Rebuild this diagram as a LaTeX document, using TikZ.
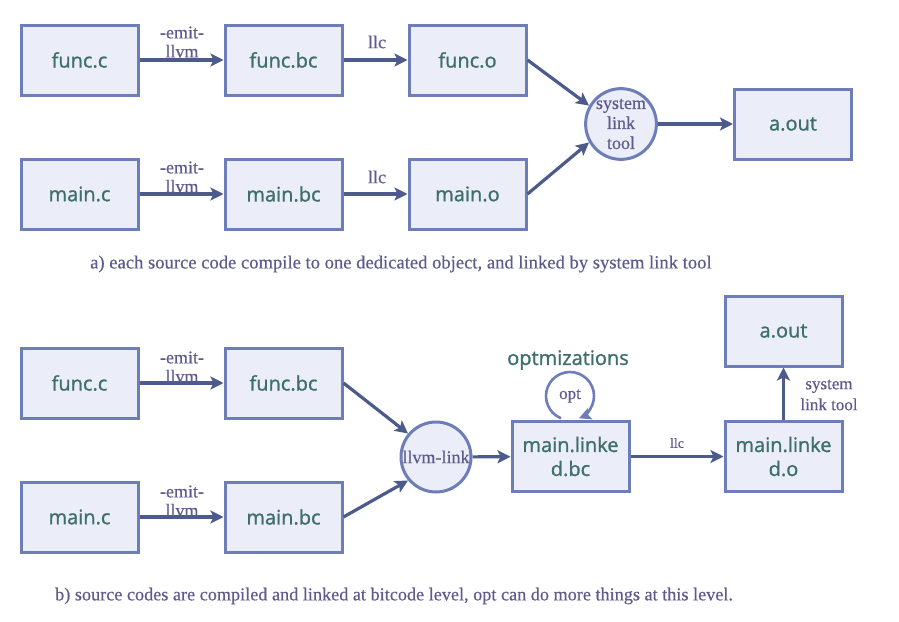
\documentclass[tikz,border=0pt]{standalone}
\usepackage{fontspec}
\setmainfont{Liberation Serif}
\newfontfamily\boxfont[FakeBold=1.2]{Open Sans}
\newfontfamily\labfont[FakeBold=0.4]{Liberation Serif}
\usetikzlibrary{arrows.meta}
\definecolor{boxfill}{HTML}{EBEEF8}
\definecolor{boxline}{HTML}{6C7DB8}
\definecolor{arrcol}{HTML}{4C5A8C}
\definecolor{boxtext}{HTML}{3E6E6E}
\definecolor{labtext}{HTML}{5E5A8E}
\tikzset{
  filebox/.style={draw=boxline, fill=boxfill, line width=3pt, minimum width=117pt, minimum height=70pt, inner sep=0pt, align=center, text=boxtext, font=\boxfont\fontsize{20}{24}\selectfont},
  toolcirc/.style={circle, draw=boxline, fill=boxfill, line width=3pt, minimum size=70pt, inner sep=0pt, align=center, text=labtext, font=\labfont\fontsize{18}{20}\selectfont},
  lab/.style={text=labtext, font=\labfont\fontsize{18}{19}\selectfont, inner sep=0pt, align=center},
  captext/.style={text=labtext, inner sep=0pt, anchor=west},
  arr/.style={draw=arrcol, line width=3.2pt, -{Stealth[length=13pt,width=13pt,inset=3pt]}},
}
\begin{document}
\begin{tikzpicture}[x=1pt,y=-1pt]
\useasboundingbox (0,0) rectangle (899,621);
% ---- part a ----
\node[filebox] (fc) at (79.5,60) {func.c};
\node[filebox] (fbc) at (283.5,60) {func.bc};
\node[filebox] (fo) at (467.5,60) {func.o};
\node[filebox] (mc) at (79.5,194) {main.c};
\node[filebox] (mbc) at (283.5,194) {main.bc};
\node[filebox] (mo) at (467.5,194) {main.o};
\node[toolcirc] (slt) at (621,124) {system\\link\\tool};
\node[filebox] (aout) at (793,124) {a.out};
\draw[arr] (fc) -- (fbc);
\draw[arr] (fbc) -- (fo);
\draw[arr] (mc) -- (mbc);
\draw[arr] (mbc) -- (mo);
\draw[arr] (fo.east) -- (slt.150);
\draw[arr] (mo.east) -- (slt.210);
\draw[arr] (slt) -- (aout);
\node[lab] (l1) at (182,42) {-emit-\\llvm};
\node[lab] (l2) at (377,42) {llc};
\node[lab] (l3) at (182,177) {-emit-\\llvm};
\node[lab] (l4) at (377,177) {llc};
\node[captext, font=\labfont\fontsize{18.6}{20}\selectfont] (capa) at (90,264) {a) each source code compile to one dedicated object, and linked by system link tool};
% ---- part b ----
\node[filebox] (bfc) at (79.5,383) {func.c};
\node[filebox] (bfbc) at (283.5,383) {func.bc};
\node[filebox] (bmc) at (79.5,517) {main.c};
\node[filebox] (bmbc) at (283.5,517) {main.bc};
\node[toolcirc] (ll) at (436,457) {llvm-link};
\node[filebox] (mlbc) at (570.5,456.5) {main.linke\\d.bc};
\node[filebox] (mlo) at (783.5,456.5) {main.linke\\d.o};
\node[filebox] (baout) at (783.5,331) {a.out};
\draw[arr] (bfc) -- (bfbc);
\draw[arr] (bmc) -- (bmbc);
\draw[arr] (bfbc.east) -- (ll.140);
\draw[arr] (bmbc.east) -- (ll.220);
\draw[arr] (ll) -- (mlbc);
\draw[arr] (mlbc) -- (mlo);
\draw[arr] (mlo) -- (baout);
\node[lab] (l5) at (182,367) {-emit-\\llvm};
\node[lab] (l6) at (182,501) {-emit-\\llvm};
\node[lab, font=\labfont\fontsize{14}{16}\selectfont] (l7) at (677,443) {llc};
\node[lab, font=\labfont\fontsize{17}{21}\selectfont] (l8) at (829,395) {system\\link tool};
\node[lab, font=\labfont\fontsize{17}{18}\selectfont] (opt) at (570,396) {opt};
\draw[draw=boxline, line width=2.6pt, -{Stealth[length=12pt,width=12pt,inset=2.5pt]}] (opt) ++(112:24) arc[start angle=112, end angle=428, radius=24];
\node[text=boxtext, font=\boxfont\fontsize{20}{22}\selectfont, inner sep=0pt] (optz) at (568,360) {optmizations};
\node[captext, font=\labfont\fontsize{18.2}{19}\selectfont] (capb) at (55,596) {b) source codes are compiled and linked at bitcode level, opt can do more things at this level.};
\end{tikzpicture}
\end{document}
